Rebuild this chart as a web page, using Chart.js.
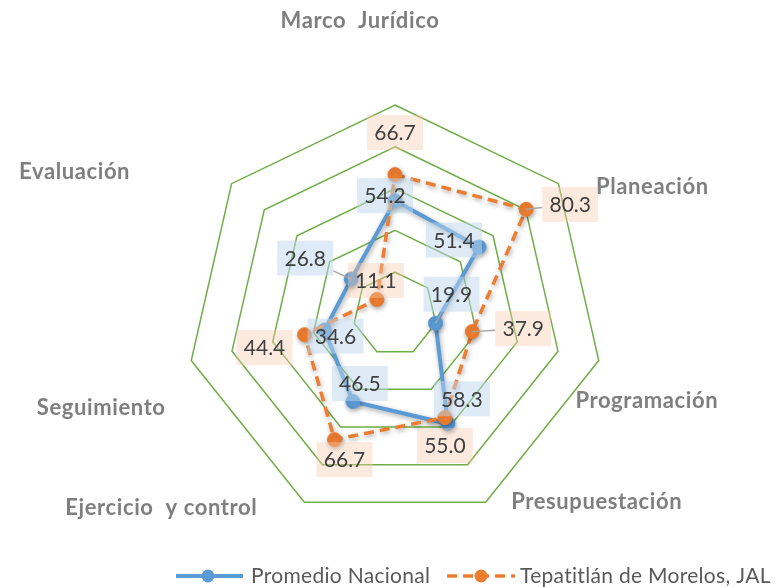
<!DOCTYPE html>
<html><head><meta charset="utf-8">
<script src="https://cdn.jsdelivr.net/npm/chart.js@4/dist/chart.umd.min.js"></script>
<style>html,body{margin:0;padding:0;background:#fff}#wrap{width:775px;height:587px}</style>
</head><body><div id="wrap"><canvas id="c" width="775" height="587"></canvas></div>
<script>
// ---- data ----
const categories = ['Marco  Jurídico', 'Planeación', 'Programación', 'Presupuestación', 'Ejercicio  y control', 'Seguimiento', 'Evaluación'];
const seriesNames = ['Promedio Nacional', 'Tepatitlán de Morelos, JAL'];
const promedioNacional = [54.2, 51.4, 19.9, 58.3, 46.5, 34.6, 26.8];
const tepatitlan = [66.7, 80.3, 37.9, 55.0, 66.7, 44.4, 11.1];
const scaleMin = 0, scaleMax = 100, scaleStep = 20;

// ---- styling (offsets of text relative to library-computed positions) ----
const pointLabelOffsets = [[-35,-84],[94,3],[48,40],[111,0],[-143,6],[-90,47],[-157,-12]];
const labelOffsets = [
  [[-10,-5],[-25,-7],[16,-29],[14,-25],[7,-18],[11,6],[-46,-21]],
  [[0,-42],[44,-5],[51,-3],[0,28],[10,20],[-40,13],[-1,-19]]
];
const leaderFlags = [[0,0,1,0,0,0,1],[0,1,1,0,0,0,0]];
const labelFills = ['rgba(189,215,238,0.5)', 'rgba(248,203,173,0.4)'];
const FONT = 'Lato, "Open Sans", sans-serif';

const shadowPlugin = {
  id: 'shadow',
  beforeDatasetDraw(chart) {
    const c = chart.ctx; c.save();
    c.shadowColor = 'rgba(0,0,0,0.35)'; c.shadowBlur = 5; c.shadowOffsetX = 1; c.shadowOffsetY = 2;
  },
  afterDatasetDraw(chart) { chart.ctx.restore(); }
};

const textPlugin = {
  id: 'texts',
  afterDraw(chart) {
    const c = chart.ctx;
    const r = chart.scales.r;
    // point labels
    c.save();
    c.font = 'bold 22px ' + FONT;
    if ('letterSpacing' in c) c.letterSpacing = '0.6px';
    c.fillStyle = '#7F7F7F';
    c.textAlign = 'center'; c.textBaseline = 'middle';
    categories.forEach((lab, i) => {
      const p = r.getPointPosition(i, r.drawingArea);
      c.fillText(lab, p.x + pointLabelOffsets[i][0], p.y + pointLabelOffsets[i][1]);
    });
    c.restore();
    // data labels
    const bw = 56, bh = 35;
    chart.data.datasets.forEach((ds, di) => {
      const meta = chart.getDatasetMeta(di);
      meta.data.forEach((pt, i) => {
        const cx = pt.x + labelOffsets[di][i][0], cy = pt.y + labelOffsets[di][i][1];
        c.save();
        if (leaderFlags[di][i]) {
          const dx = pt.x - cx, dy = pt.y - cy;
          const t = Math.min(Math.abs(dx) > 0 ? (bw/2)/Math.abs(dx) : 1e9, Math.abs(dy) > 0 ? (bh/2)/Math.abs(dy) : 1e9);
          c.strokeStyle = '#A6A6A6'; c.lineWidth = 1.5;
          c.beginPath(); c.moveTo(pt.x, pt.y); c.lineTo(cx + dx*t, cy + dy*t); c.stroke();
        }
        c.fillStyle = labelFills[di];
        c.fillRect(cx - bw/2, cy - bh/2, bw, bh);
        c.font = '21px ' + FONT;
        c.fillStyle = '#404040';
        c.textAlign = 'center'; c.textBaseline = 'middle';
        c.fillText(Number(ds.data[i]).toFixed(1), cx, cy + 1);
        c.restore();
      });
    });
    // legend
    const ly = 576;
    const items = [
      {x0: 176, x1: 243, mx: 208, tx: 251},
      {x0: 447, x1: 515, mx: 481, tx: 520}
    ];
    chart.data.datasets.forEach((ds, di) => {
      const it = items[di];
      c.save();
      c.strokeStyle = ds.borderColor; c.lineWidth = ds.borderWidth;
      c.setLineDash(ds.borderDash || []);
      c.beginPath(); c.moveTo(it.x0, ly); c.lineTo(it.x1, ly); c.stroke();
      c.setLineDash([]);
      c.fillStyle = ds.pointBackgroundColor;
      c.beginPath(); c.arc(it.mx, ly, 6.5, 0, Math.PI*2); c.fill();
      c.font = '21px ' + FONT; c.fillStyle = '#595959';
      if ('letterSpacing' in c) c.letterSpacing = '0.3px';
      c.textAlign = 'left'; c.textBaseline = 'middle';
      c.fillText(ds.label, it.tx, ly);
      c.restore();
    });
  }
};

new Chart(document.getElementById('c'), {
  type: 'radar',
  data: {
    labels: categories,
    datasets: [
      {label: seriesNames[0], data: promedioNacional, borderColor: '#5B9BD5', backgroundColor: '#5B9BD5',
       borderWidth: 4, pointRadius: 7, pointBackgroundColor: '#5B9BD5', pointBorderColor: '#5B9BD5',
       pointBorderWidth: 1, fill: false, tension: 0, order: 1},
      {label: seriesNames[1], data: tepatitlan, borderColor: '#ED7D31', backgroundColor: '#ED7D31',
       borderWidth: 3.5, borderDash: [10, 6], pointRadius: 7, pointBackgroundColor: '#ED7D31', pointBorderColor: '#ED7D31',
       pointBorderWidth: 1, fill: false, tension: 0, order: 0}
    ]
  },
  options: {
    responsive: false, animation: false, devicePixelRatio: 1,
    layout: {padding: {top: 105, bottom: 64, left: 100, right: 85}},
    plugins: {legend: {display: false}, tooltip: {enabled: false}},
    scales: {
      r: {
        min: scaleMin, max: scaleMax,
        ticks: {stepSize: scaleStep, display: false},
        grid: {color: '#70AD47', lineWidth: 1.5},
        angleLines: {display: false},
        pointLabels: {display: false}
      }
    }
  },
  plugins: [shadowPlugin, textPlugin]
});
</script>
</body></html>
